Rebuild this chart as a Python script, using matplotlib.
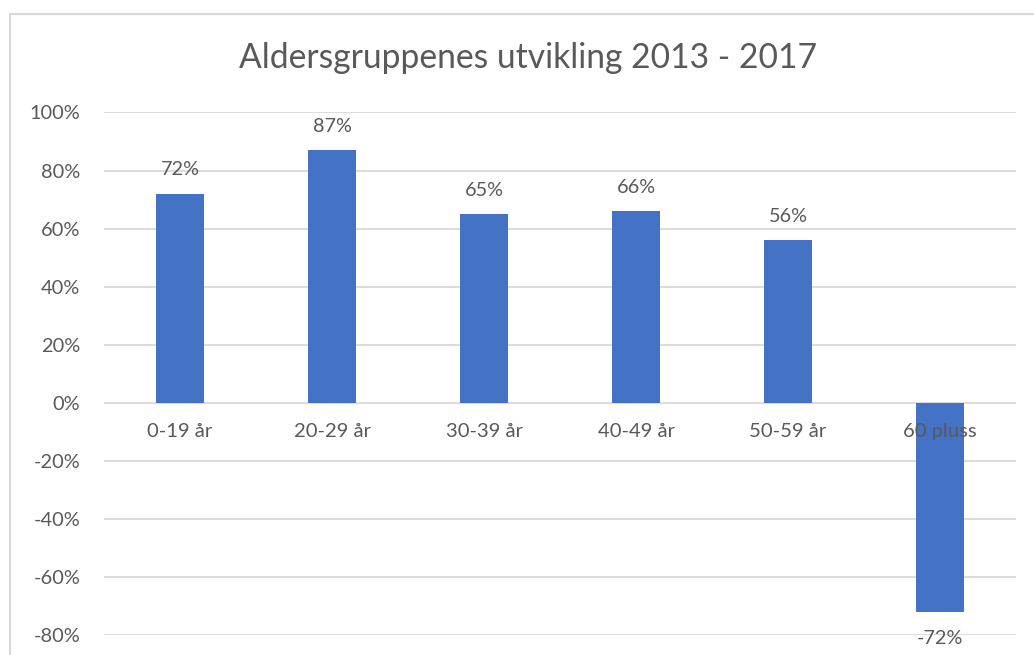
import matplotlib
matplotlib.use("Agg")
import matplotlib.pyplot as plt
from matplotlib.ticker import PercentFormatter
from matplotlib.patches import Rectangle

categories = ["0-19 år", "20-29 år", "30-39 år", "40-49 år", "50-59 år", "60 pluss"]
values = [0.72, 0.87, 0.65, 0.66, 0.56, -0.72]
yticks = [-0.8, -0.6, -0.4, -0.2, 0.0, 0.2, 0.4, 0.6, 0.8, 1.0]
title = "Aldersgruppenes utvikling 2013 - 2017"

W, H = 1034, 655
FONT = ["Lato", "DejaVu Sans"]
TXT = "#595959"
GRID = "#D9D9D9"
BAR = "#4472C4"

plt.rcParams["font.family"] = FONT
plt.rcParams["axes.unicode_minus"] = False
fig = plt.figure(figsize=(W / 100, H / 100), dpi=100)
fig.patch.set_facecolor("white")

# chart-area border (extends past bottom/right edges)
fig.add_artist(Rectangle((10 / W, -0.1), 1.2, 1.1 - 13.5 / H, transform=fig.transFigure,
                         fill=False, edgecolor=GRID, linewidth=1.5))

left, right, top, bottom = 104, 1016, 112.5, 635
ax = fig.add_axes([left / W, (H - bottom) / H, (right - left) / W, (bottom - top) / H])
ax.set_facecolor("none")

x = list(range(len(categories)))
ax.bar(x, values, width=0.313, color=BAR, zorder=2)
ax.set_xlim(-0.5, len(categories) - 0.5)
ax.set_ylim(-0.8, 1.0)
ax.set_yticks(yticks)
ax.yaxis.set_major_formatter(PercentFormatter(1.0, decimals=0))
ax.tick_params(axis="y", length=0, pad=17, labelsize=14.4, labelcolor=TXT)
ax.set_xticks([])
for s in ax.spines.values():
    s.set_visible(False)
ax.grid(axis="y", color=GRID, linewidth=1.3, zorder=0)
ax.set_axisbelow(True)

for i, (c, v) in enumerate(zip(categories, values)):
    ax.annotate(c, (i, 0), xytext=(0, -29 * 0.72), textcoords="offset points",
                ha="center", va="center", fontsize=14.6, color=TXT, zorder=5)
    off = 24 if v >= 0 else -27
    ax.annotate(f"{round(v * 100):d}%", (i, v), xytext=(0, off * 0.72), textcoords="offset points",
                ha="center", va="center", fontsize=14.3, color=TXT, zorder=5)

fig.text(528 / W, 1 - 58 / H, title, ha="center", va="center", fontsize=24.2, color=TXT)

fig.savefig("out.png", dpi=100)
